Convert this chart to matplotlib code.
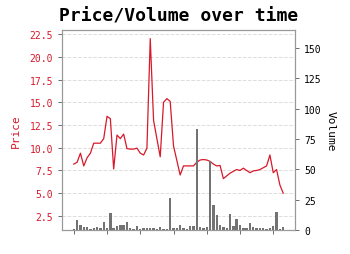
import matplotlib
matplotlib.use("Agg")
import matplotlib.pyplot as plt
import pandas as pd

plt.rcParams['font.family'] = ['DejaVu Sans Mono']

dates = pd.date_range('2020-01-01', periods=64, freq='D')

price = [8.2, 8.4, 9.4, 8.0, 8.9, 9.4, 10.5, 10.5, 10.5, 11.0,
         13.45, 13.2, 7.66, 11.4, 11.0, 11.5, 9.9, 9.85, 9.85, 9.95,
         9.4, 9.2, 9.95, 22.0, 13.0, 11.0, 9.0, 15.0, 15.4, 15.1,
         10.2, 8.6, 7.0, 8.0, 8.0, 8.0, 8.0, 8.4, 8.65, 8.7,
         8.65, 8.5, 8.2, 8.0, 8.05, 6.6, 6.9, 7.2, 7.4, 7.6,
         7.5, 7.75, 7.5, 7.25, 7.45, 7.5, 7.6, 7.8, 8.0, 9.2,
         7.25, 7.6, 5.9, 5.0]

volume = [1, 8, 4.5, 2.5, 2.5, 1, 1.5, 2.2, 1.5, 6.5,
          1.5, 14, 1.5, 3, 4, 4.5, 6.5, 1.5, 1, 3,
          1, 1.5, 2, 2, 2, 0.5, 2.5, 1, 0.5, 26.5,
          1.5, 2, 4.5, 1.5, 1, 3.5, 3.5, 83, 2.5, 1.5,
          2.5, 57, 20.5, 12, 4, 2.5, 2, 13, 3, 9,
          4.5, 1.5, 1.5, 6, 2.5, 2, 1.5, 2, 1, 2,
          3, 15, 0.5, 2.5]

price_ticks = [2.5, 5.0, 7.5, 10.0, 12.5, 15.0, 17.5, 20.0, 22.5]
volume_ticks = [0, 25, 50, 75, 100, 125, 150]

RED = '#d7192a'
SPINE = '#999999'

fig = plt.figure(figsize=(3.5, 2.55), dpi=100)
ax = fig.add_axes([62/350, 1-231/255, (295-62)/350, 200/255])
ax2 = ax.twinx()

ax.plot(dates, price, color=RED, linewidth=0.9, zorder=3)
ax2.bar(dates, volume, width=0.72, color='#737373', zorder=2)

ax.set_ylim(0.95, 22.95)
ax2.set_ylim(0, 165)
ax.set_yticks(price_ticks)
ax.set_yticklabels([f'{t:.1f}' for t in price_ticks])
ax2.set_yticks(volume_ticks)

ax.set_xticks(dates[::10])
ax.set_xticklabels([])

ax.grid(axis='y', linestyle='--', color='#dddddd', linewidth=0.7)
ax.set_axisbelow(True)

ax.tick_params(axis='y', colors=RED, labelsize=7, length=3, width=0.6)
ax.tick_params(axis='y', color='#555555')
ax.tick_params(axis='x', length=3, width=0.6, color='#555555')
ax2.tick_params(axis='y', labelsize=7, length=3, width=0.6, color='#555555', labelcolor='black')

for a in (ax, ax2):
    for s in a.spines.values():
        s.set_color(SPINE)
        s.set_linewidth(0.8)

ax.set_ylabel('Price', color=RED, fontsize=8, labelpad=6)
ax2.set_ylabel('Volume', color='black', fontsize=8, rotation=270, labelpad=10)
ax.set_title('Price/Volume over time', fontsize=13, fontweight='bold', pad=7)

fig.savefig('out.png', dpi=100)
